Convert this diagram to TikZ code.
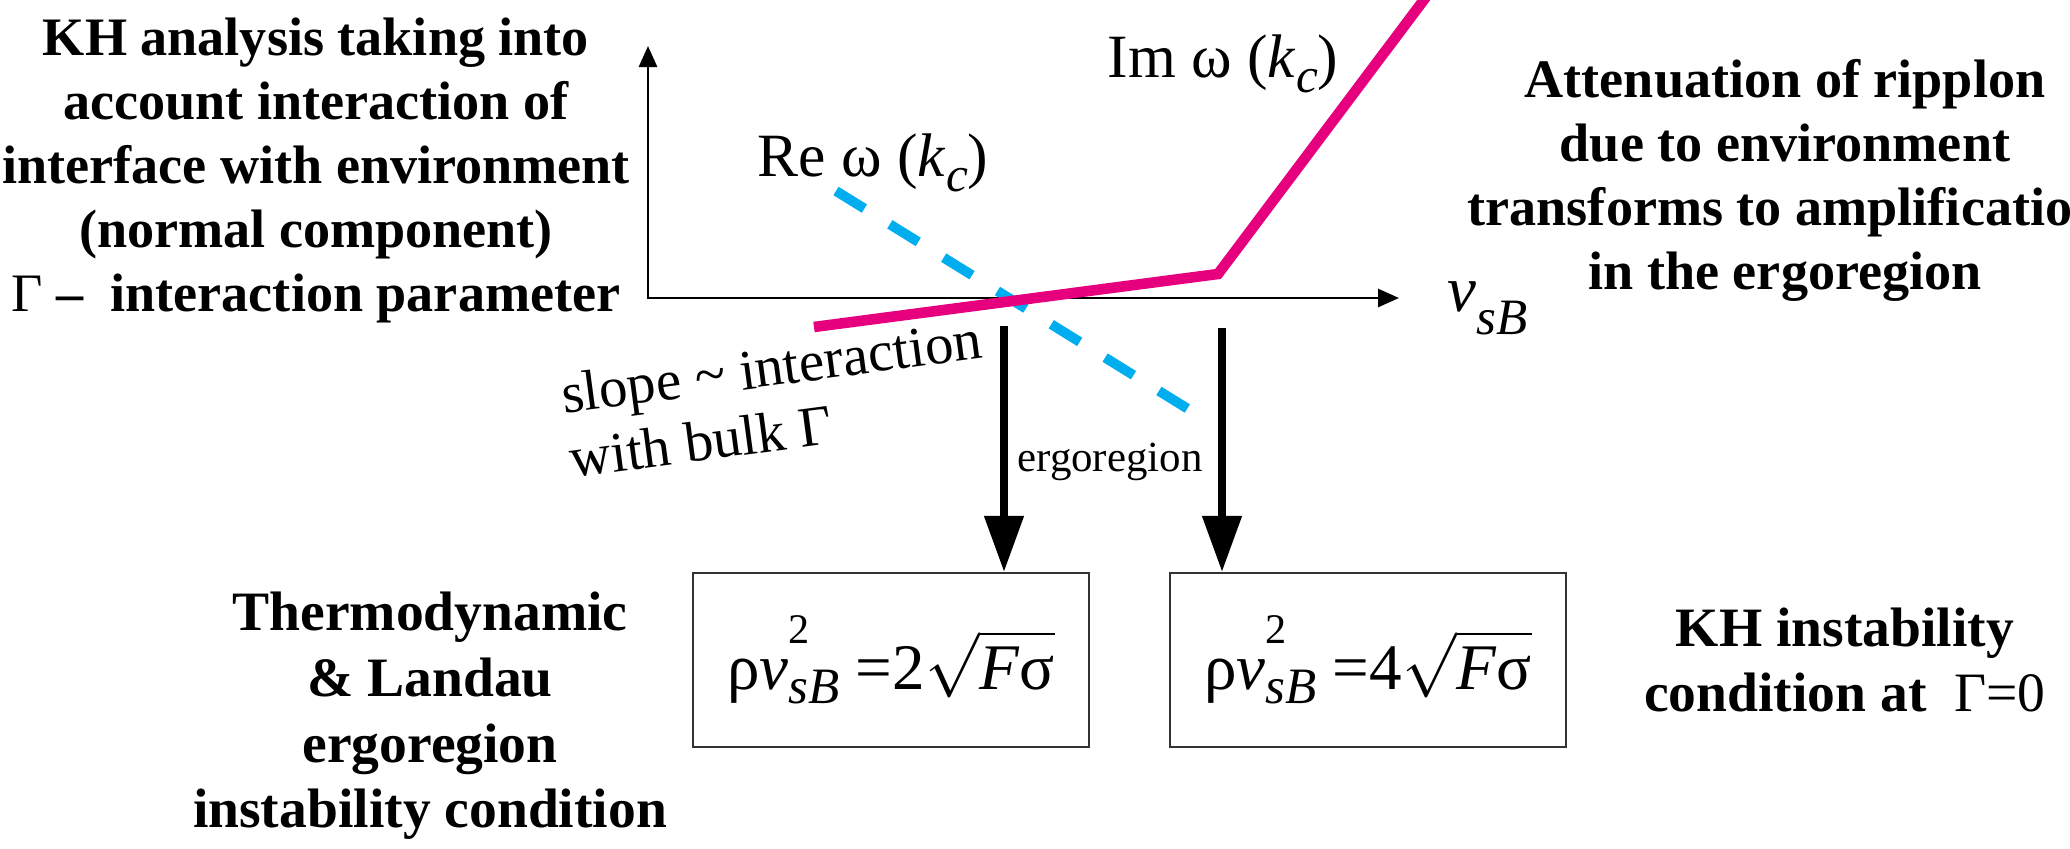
\RequirePackage{fix-cm}
\documentclass[tikz,border=0pt]{standalone}
\usepackage{amsmath}
\usepackage{fontspec}
\setmainfont{Liberation Serif}
\usetikzlibrary{arrows.meta,positioning}

\definecolor{impink}{RGB}{230,0,126}
\definecolor{recyan}{RGB}{0,174,239}

% rho v_sB^2 = n sqrt(F sigma)
\newcommand{\condeq}[1]{ρ\textit{v}\rlap{\raisebox{0.7em}{\fontsize{12}{12}\selectfont 2}}\raisebox{-0.23em}{\fontsize{14.5}{14.5}\selectfont\textit{sB}}\ =#1$\sqrt{\text{\textit{F}σ}}$}
\newcommand{\kc}{(\textit{k}\raisebox{-0.23em}{\fontsize{14}{14}\selectfont\textit{c}})}

\begin{document}
\begin{tikzpicture}[
  x=0.01cm, y=-0.01cm,
  axisline/.style={line width=0.8pt},
  axistip/.tip={Triangle[length=0.21cm,width=0.18cm]},
  bignote/.style={font=\fontsize{15.4}{18.2}\selectfont\bfseries, align=center, inner sep=1pt},
  curvenote/.style={font=\fontsize{17.5}{20}\selectfont, inner sep=0pt},
  downarrow/.style={line width=2.2pt, -{Triangle[length=0.56cm,width=0.38cm]}},
  condbox/.style={draw=black!80, line width=0.6pt, minimum width=3.95cm, minimum height=1.74cm, font=\fontsize{18.5}{21}\selectfont}
]
\useasboundingbox (0,0) rectangle (2070,849);

% axes
\coordinate (O) at (648,298);
\coordinate (ytip) at (648,46);
\coordinate (xtip) at (1399,298);
\draw[axisline, axistip-axistip] (ytip) -- (O) -- (xtip);
\node[font=\fontsize{18.5}{22}\selectfont, anchor=base west, inner sep=0pt] (vsb) at (1447,312)
  {\textit{v}\raisebox{-0.35em}{\fontsize{14.5}{14.5}\selectfont\textit{sB}}};

% curves
\draw[recyan, line width=2.8pt, dash pattern=on 9.5pt off 8.5pt] (836,191) -- (1201,417);
\draw[impink, line width=3pt] (814,327) -- (1218,274) -- (1426,-3);
\node[curvenote, anchor=base west] (re) at (757,177) {Re ω \kc};
\node[curvenote, anchor=base west] (im) at (1107,78) {Im ω \kc};
\node[font=\fontsize{16.2}{18.4}\selectfont, align=left, rotate=7.6, anchor=north west, inner sep=0pt] (slope) at (558,374)
  {slope \textasciitilde{} interaction\\with bulk Γ};

% conditions
\node[condbox] (cond1) at (891,660) {\condeq{2}};
\node[condbox] (cond2) at (1368,660) {\condeq{4}};
\coordinate (a1) at (1004,326);
\coordinate (a2) at (1222,328);
\draw[downarrow] (a1) -- (a1 |- cond1.north);
\draw[downarrow] (a2) -- (a2 |- cond2.north);
\node[font=\fontsize{12.2}{14}\selectfont] (ergo) at (1110,462) {ergoregion};

% notes
\node[bignote] (kh) at (316,170) {KH analysis taking into\\account interaction of\\interface with environment\\(normal component)\\{\mdseries Γ} --\ \ interaction parameter};
\node[bignote] (atten) at (1785,180) {Attenuation of ripplon\\due to environment\\transforms to amplification\\in the ergoregion};
\node[bignote, font=\fontsize{15.8}{18.7}\selectfont\bfseries] (thermo) at (430,716) {Thermodynamic\\\& Landau\\ergoregion\\instability condition};
\node[bignote, font=\fontsize{15.8}{18.4}\selectfont\bfseries] (khcond) at (1845,660) {KH instability\\condition at \ {\mdseries Γ=0}};
\end{tikzpicture}
\end{document}
